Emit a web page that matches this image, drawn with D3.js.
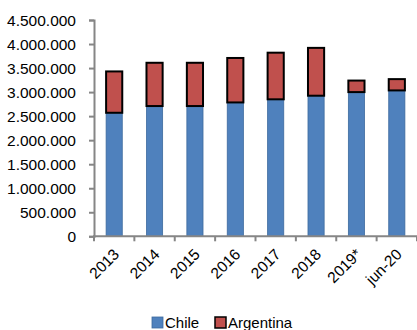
<!DOCTYPE html>
<html lang="es">
<head>
<meta charset="UTF-8">
<title>Chile / Argentina</title>
<script src="https://d3js.org/d3.v7.min.js"></script>
<style>
  body { margin: 0; background: #fff; }
  text { font-family: "Liberation Sans", Arial, sans-serif; fill: #000; }
  .axis path, .axis line { stroke: #868686; stroke-width: 2; fill: none; }
</style>
</head>
<body>
<div id="chart"></div>
<script>
var categories = ["2013", "2014", "2015", "2016", "2017", "2018", "2019*", "jun-20"];
var chile = [2570000, 2710000, 2710000, 2785000, 2850000, 2925000, 3000000, 3035000];
var argentina = [860000, 900000, 900000, 925000, 970000, 995000, 240000, 235000];
var yTicks = [0, 500000, 1000000, 1500000, 2000000, 2500000, 3000000, 3500000, 4000000, 4500000];
var seriesNames = ["Chile", "Argentina"];
var colors = ["#4F81BD", "#C0504D"];

var width = 417, height = 330;
var margin = { left: 94, right: 0, top: 20, bottom: 94 };
var base = height - margin.bottom + 0.3;

var svg = d3.select("#chart").append("svg")
  .attr("width", width).attr("height", height);

var x = d3.scaleBand().domain(categories).range([margin.left, 417]).paddingInner(0.6).paddingOuter(0.3);
var xBand = d3.scaleBand().domain(categories).range([margin.left, 417]);
var y = d3.scaleLinear().domain([0, 4500000]).range([base, margin.top]);

var fmt = function (d) { return d3.format(",")(d).replace(/,/g, "."); };

// y axis
var yAxis = svg.append("g").attr("class", "axis")
  .attr("transform", "translate(" + margin.left + ",0)")
  .call(d3.axisLeft(y).tickValues(yTicks).tickFormat(fmt).tickSize(5).tickPadding(13));
yAxis.selectAll("text").style("font-size", "15.5px").attr("dy", "0.36em");

// bars
var rows = categories.map(function (c, i) { return { cat: c, chile: chile[i], arg: argentina[i] }; });
var stack = d3.stack().keys(["chile", "arg"])(rows);

svg.append("g").selectAll("rect").data(stack[0]).join("rect")
  .attr("x", function (d) { return x(d.data.cat); })
  .attr("width", x.bandwidth())
  .attr("y", function (d) { return y(d[1]); })
  .attr("height", function (d) { return y(d[0]) - y(d[1]); })
  .attr("fill", colors[0])
  .attr("stroke", "#3d6a9e").attr("stroke-width", 0.8);

svg.append("g").selectAll("rect").data(stack[1]).join("rect")
  .attr("x", function (d) { return x(d.data.cat); })
  .attr("width", x.bandwidth())
  .attr("y", function (d) { return y(d[1]); })
  .attr("height", function (d) { return y(d[0]) - y(d[1]); })
  .attr("fill", colors[1])
  .attr("stroke", "#000").attr("stroke-width", 2);

// x axis
var xg = svg.append("g").attr("class", "axis")
  .attr("transform", "translate(0," + base + ")");
xg.append("line").attr("x1", margin.left - 1).attr("x2", 417).attr("y1", 0).attr("y2", 0);
xg.selectAll(".tk").data(categories.concat(["end"])).join("line").attr("class", "tk")
  .attr("x1", function (d, i) { return margin.left + i * xBand.bandwidth(); })
  .attr("x2", function (d, i) { return margin.left + i * xBand.bandwidth(); })
  .attr("y1", 0).attr("y2", 5);
xg.selectAll("text").data(categories).join("text")
  .attr("transform", function (d) {
    return "translate(" + (x(d) + x.bandwidth() / 2 + 6) + ",19) rotate(-45)";
  })
  .attr("text-anchor", "end")
  .style("font-size", "15.5px")
  .text(function (d) { return d; });

// legend
var legend = svg.append("g").attr("transform", "translate(152,317)");
var lx = [0, 63];
seriesNames.forEach(function (s, i) {
  legend.append("rect").attr("x", lx[i]).attr("y", 0).attr("width", 11).attr("height", 11)
    .attr("fill", colors[i]).attr("stroke", i ? "#000" : "#3d6a9e").attr("stroke-width", i ? 1.5 : 0.8);
  legend.append("text").attr("x", lx[i] + 13).attr("y", 10.5)
    .style("font-size", "15px").text(s);
});
</script>
</body>
</html>
